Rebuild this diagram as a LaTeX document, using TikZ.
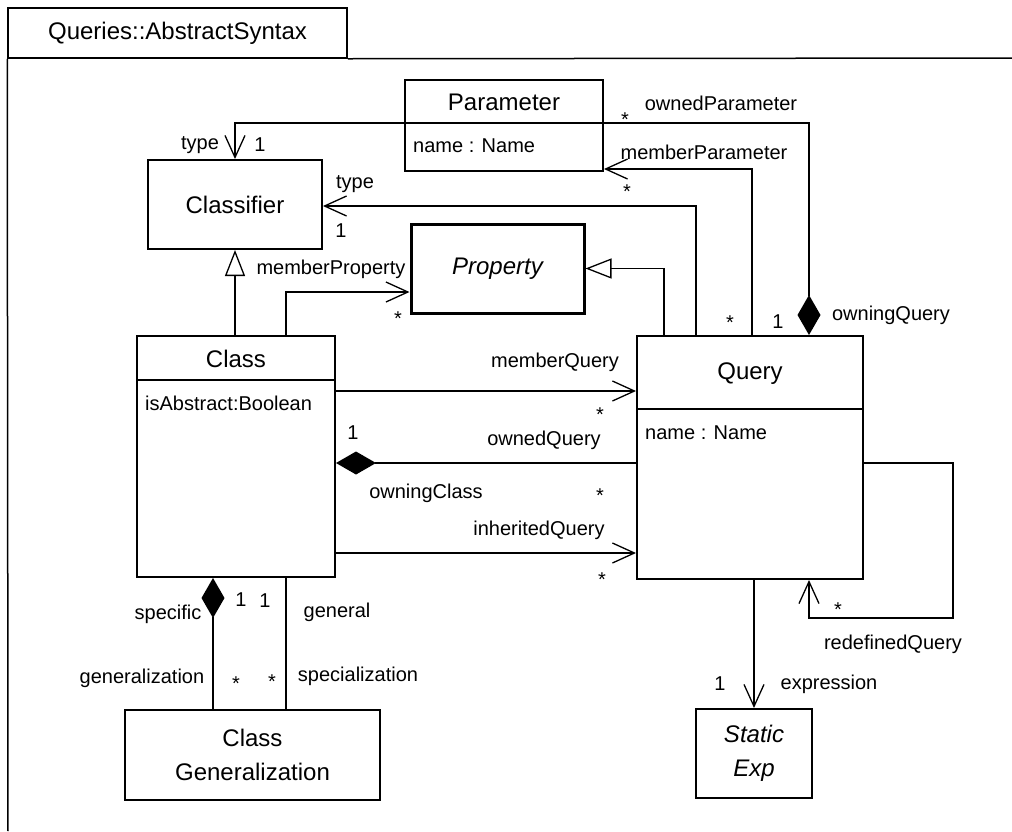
\documentclass[tikz,border=0pt]{standalone}
\usepackage{fontspec}
\setmainfont{Liberation Sans}
\usetikzlibrary{arrows.meta,positioning}

\tikzset{
  umlbox/.style={draw, line width=2pt, inner sep=0pt},
  cname/.style={font=\fontsize{24}{34}\selectfont, inner sep=0pt},
  lbl/.style={font=\fontsize{20}{23}\selectfont, inner sep=0pt},
  assoc/.style={line width=1.3pt},
  navarr/.style={-{Straight Barb[length=22pt,width=20pt]}},
  genarr/.style={-{Triangle[open,fill=white,length=26pt,width=20pt]}},
  compos/.style={-{Diamond[length=40pt,width=23pt]}},
}

\begin{document}
\begin{tikzpicture}[x=1pt,y=-1pt]
        \useasboundingbox (0,0) rectangle (1012,831);

        % package frame
        \node[draw, line width=1.5pt, minimum width=339pt, minimum height=50pt, cname] (pkgtab) at (177.5,33) {Queries::AbstractSyntax};
        \coordinate (frameright) at (1012,58);
        \coordinate (framebottom) at (8,831);
        \draw[line width=1.5pt] (pkgtab.south east) -- (frameright);
        \draw[line width=1.5pt] (pkgtab.south west) -- (framebottom);

        % classes
        \node[umlbox, minimum width=198pt, minimum height=91pt] (param) at (504,125.5) {};
        \draw[line width=2pt] (param.west |- 0,123) -- (param.east |- 0,123);
        \node[cname] (paramname) at (504,102) {Parameter};
        \node[lbl, anchor=west] (paramattr) at (413,146) {name : Name};

        \node[umlbox, minimum width=174pt, minimum height=89pt, cname] (classifier) at (235,204.5) {Classifier};

        \node[umlbox, line width=3pt, minimum width=173pt, minimum height=89pt, cname] (property) at (497.5,268.5) {\itshape Property};

        \node[umlbox, minimum width=198pt, minimum height=241pt] (class) at (236,456.5) {};
        \draw[line width=2pt] (class.west |- 0,380) -- (class.east |- 0,380);
        \node[cname] (classname) at (236,359) {Class};
        \node[lbl, anchor=west] (classattr) at (145,403) {isAbstract:Boolean};

        \node[umlbox, minimum width=226pt, minimum height=243pt] (query) at (750,457.5) {};
        \draw[line width=2pt] (query.west |- 0,409) -- (query.east |- 0,409);
        \node[cname] (queryname) at (750,374) {Query};
        \node[lbl, anchor=west] (queryattr) at (645,433) {name : Name};

        \node[umlbox, minimum width=116pt, minimum height=89pt, cname, align=center] (statexp) at (754,753.5) {\itshape Static\\\itshape Exp};

        \node[umlbox, minimum width=255pt, minimum height=90pt, cname, align=center] (classgen) at (252.5,755) {Class\\Generalization};

        % generalizations
        \draw[assoc,genarr] (class.north -| classifier.south) -- (classifier.south);
        \draw[assoc,genarr] (query.north -| 664,0) |- (property.east);

        % associations
        \draw[assoc,navarr] (param.west |- 0,123) -| (classifier.north);
        \draw[assoc,navarr] (query.north -| 696,0) |- (classifier.east |- 0,206);
        \draw[assoc,navarr] (class.north -| 286,0) |- (property.west |- 0,292);
        \draw[assoc,navarr] (query.north -| 752,0) |- (param.east |- 0,169);
        \draw[assoc,compos] (param.east |- 0,123) -| (query.north -| 809,0);
        \draw[assoc,navarr] (class.east |- 0,391) -- (query.west |- 0,391);
        \draw[assoc,compos] (query.west |- 0,463) -- (class.east |- 0,463);
        \draw[assoc,navarr] (class.east |- 0,553) -- (query.west |- 0,553);
        \coordinate (loopcorner) at (953,618);
        \draw[assoc,navarr] (query.east |- 0,463) -| (loopcorner) -| (query.south -| 809,0);
        \draw[assoc,navarr] (query.south -| statexp.north) -- (statexp.north);
        \draw[assoc,compos] (classgen.north -| 213,0) -- (class.south -| 213,0);
        \draw[assoc] (class.south -| 286,0) -- (classgen.north -| 286,0);

        % role names and multiplicities
        \node[lbl] (l1) at (200,145) {type};
        \node[lbl] (l2) at (260,145) {1};
        \node[lbl] (l3) at (355,184) {type};
        \node[lbl] (l4) at (341,231) {1};
        \node[lbl] (l5) at (331,269) {memberProperty};
        \node[lbl] (l6) at (398,319) {*};
        \node[lbl] (l7) at (721,103) {ownedParameter};
        \node[lbl] (l8) at (625,120) {*};
        \node[lbl] (l9) at (704,152) {memberParameter};
        \node[lbl] (l10) at (627,192) {*};
        \node[lbl] (l11) at (730,323) {*};
        \node[lbl] (l12) at (778,322) {1};
        \node[lbl] (l13) at (891,315) {owningQuery};
        \node[lbl] (l14) at (555,362) {memberQuery};
        \node[lbl] (l15) at (600,415) {*};
        \node[lbl] (l16) at (353,433) {1};
        \node[lbl] (l17) at (544,440) {ownedQuery};
        \node[lbl] (l18) at (426,493) {owningClass};
        \node[lbl] (l19) at (600,496) {*};
        \node[lbl] (l20) at (539,530) {inheritedQuery};
        \node[lbl] (l21) at (602,580) {*};
        \node[lbl] (l22) at (838,610) {*};
        \node[lbl] (l23) at (893,644) {redefinedQuery};
        \node[lbl] (l24) at (720,684) {1};
        \node[lbl] (l25) at (829,684) {expression};
        \node[lbl] (l26) at (168,614) {specific};
        \node[lbl] (l27) at (241,600) {1};
        \node[lbl] (l28) at (265,601) {1};
        \node[lbl] (l29) at (337,612) {general};
        \node[lbl] (l30) at (142,678) {generalization};
        \node[lbl] (l31) at (236,684) {*};
        \node[lbl] (l32) at (272,682) {*};
        \node[lbl] (l33) at (358,676) {specialization};
    \end{tikzpicture}
\end{document}
